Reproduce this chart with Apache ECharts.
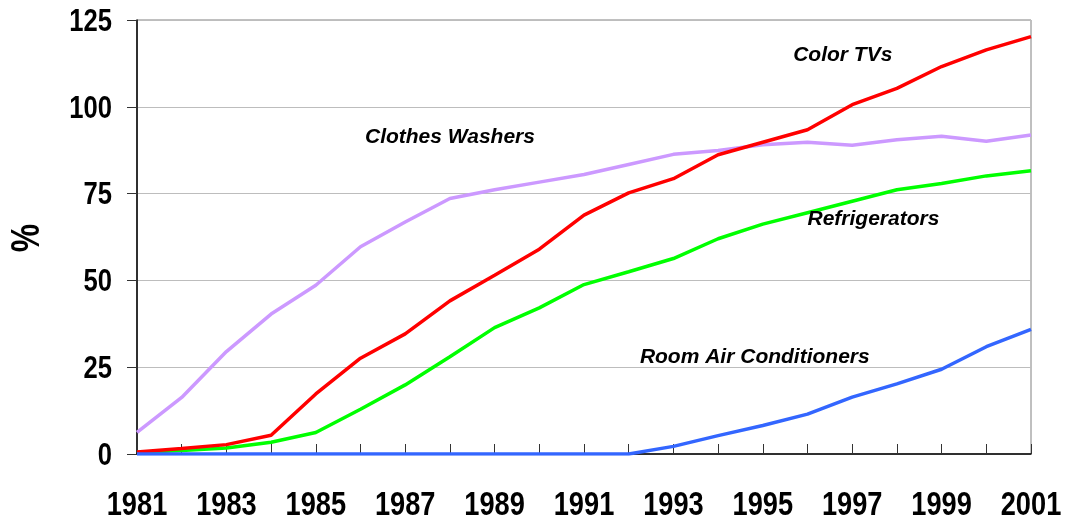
<!DOCTYPE html>
<html>
<head>
<meta charset="utf-8">
<script src="https://cdn.jsdelivr.net/npm/echarts@6/dist/echarts.min.js"></script>
<style>
html,body{margin:0;padding:0;background:#fff;}
#chart{width:1065px;height:523px;}
</style>
</head>
<body>
<div id="chart"></div>
<script>
var years = ['1981','1982','1983','1984','1985','1986','1987','1988','1989','1990','1991','1992','1993','1994','1995','1996','1997','1998','1999','2000','2001'];
var xTickLabels = ['1981','1983','1985','1987','1989','1991','1993','1995','1997','1999','2001'];
var clothesWashers = [6.2,16.3,29.5,40.3,48.6,59.7,66.8,73.6,76.1,78.3,80.5,83.4,86.3,87.4,89.1,89.8,88.9,90.5,91.5,90.1,91.9];
var colorTVs = [0.6,1.6,2.7,5.4,17.3,27.6,34.6,44.1,51.5,59.0,68.8,75.2,79.3,86.2,89.8,93.4,100.6,105.3,111.6,116.4,120.2];
var refrigerators = [0.4,1.0,1.7,3.4,6.2,12.9,19.9,28.0,36.4,42.1,48.8,52.5,56.3,62.0,66.2,69.5,72.8,76.1,77.9,80.1,81.6];
var roomAC = [0,0,0,0,0,0,0,0,0,0,0,0,2.2,5.3,8.2,11.5,16.4,20.2,24.4,30.9,35.9];
var yTicks = [0,25,50,75,100,125];
// annotation anchors: year index (fractional) and value
var seriesLabels = [
  { text: 'Clothes Washers', at: 5.1, value: 91.1 },
  { text: 'Color TVs', at: 14.68, value: 114.9 },
  { text: 'Refrigerators', at: 15.0, value: 67.6 },
  { text: 'Room Air Conditioners', at: 11.25, value: 28 }
];

var FONT = '"Liberation Sans", Arial, sans-serif';
var chart = echarts.init(document.getElementById('chart'), null, {renderer:'canvas'});

var option = {
  animation: false,
  backgroundColor: '#fff',
  grid: { left: 137, right: 34, top: 20, bottom: 69, show: true, borderColor: '#808080', borderWidth: 1, backgroundColor: 'transparent', containLabel: false, outerBoundsMode: 'none' },
  xAxis: {
    type: 'category', data: years, boundaryGap: false,
    axisLine: { lineStyle: { color: '#000', width: 1.5 } },
    axisTick: { inside: true, length: 10, interval: 0, lineStyle: { color: '#333' } },
    axisLabel: { show: false },
    splitLine: { show: false }
  },
  yAxis: {
    type: 'value', min: yTicks[0], max: yTicks[yTicks.length-1], interval: 25,
    axisLine: { show: true, lineStyle: { color: '#000', width: 1.5 } },
    axisTick: { show: true, length: 10, lineStyle: { color: '#333' } },
    axisLabel: { show: false },
    splitLine: { show: true, lineStyle: { color: '#bdbdbd', width: 1 } }
  },
  series: [
    { name: 'Clothes Washers', type: 'line', data: clothesWashers, symbol: 'none', lineStyle: { color: '#CC99FF', width: 3.5 }, z: 2 },
    { name: 'Refrigerators', type: 'line', data: refrigerators, symbol: 'none', lineStyle: { color: '#00FF00', width: 3.5 }, z: 3 },
    { name: 'Color TVs', type: 'line', data: colorTVs, symbol: 'none', lineStyle: { color: '#FF0000', width: 3.5 }, z: 4 },
    { name: 'Room Air Conditioners', type: 'line', data: roomAC, symbol: 'none', lineStyle: { color: '#3366FF', width: 3.5 }, z: 5 }
  ]
};
chart.setOption(option);

function px(idx, v) {
  var i0 = Math.floor(idx), i1 = Math.min(i0 + 1, years.length - 1), f = idx - i0;
  var a = chart.convertToPixel({ gridIndex: 0 }, [years[i0], v]);
  var b = chart.convertToPixel({ gridIndex: 0 }, [years[i1], v]);
  return [a[0] + (b[0] - a[0]) * f, a[1]];
}

// condensed bold tick labels (Arial Narrow look) placed through the axes' own scales
var g = [];
xTickLabels.forEach(function (y) {
  var p = chart.convertToPixel({ gridIndex: 0 }, [y, 0]);
  g.push({ type: 'text', x: p[0], y: 506, scaleX: 0.8, z: 100, silent: true,
    style: { text: y, fill: '#000', font: 'bold 34px ' + FONT, textAlign: 'center', textVerticalAlign: 'middle' } });
});
yTicks.forEach(function (v) {
  var p = chart.convertToPixel({ gridIndex: 0 }, [years[0], v]);
  g.push({ type: 'text', x: 112, y: p[1] + 2, scaleX: 0.8, z: 100, silent: true,
    style: { text: String(v), fill: '#000', font: 'bold 32px ' + FONT, textAlign: 'right', textVerticalAlign: 'middle' } });
});
// axis title
var pm = chart.convertToPixel({ gridIndex: 0 }, [years[0], 62.5]);
g.push({ type: 'text', x: 28, y: pm[1] + 1, rotation: Math.PI / 2, scaleX: 0.8, z: 100, silent: true,
  style: { text: '%', fill: '#000', font: 'bold 40px ' + FONT, textAlign: 'center', textVerticalAlign: 'middle' } });
// series annotations
seriesLabels.forEach(function (l) {
  var p = px(l.at, l.value);
  g.push({ type: 'text', x: p[0], y: p[1], z: 100, silent: true,
    style: { text: l.text, fill: '#000', font: 'italic bold 21px ' + FONT, textAlign: 'left', textVerticalAlign: 'middle' } });
});
chart.setOption({ graphic: g });
</script>
</body>
</html>
